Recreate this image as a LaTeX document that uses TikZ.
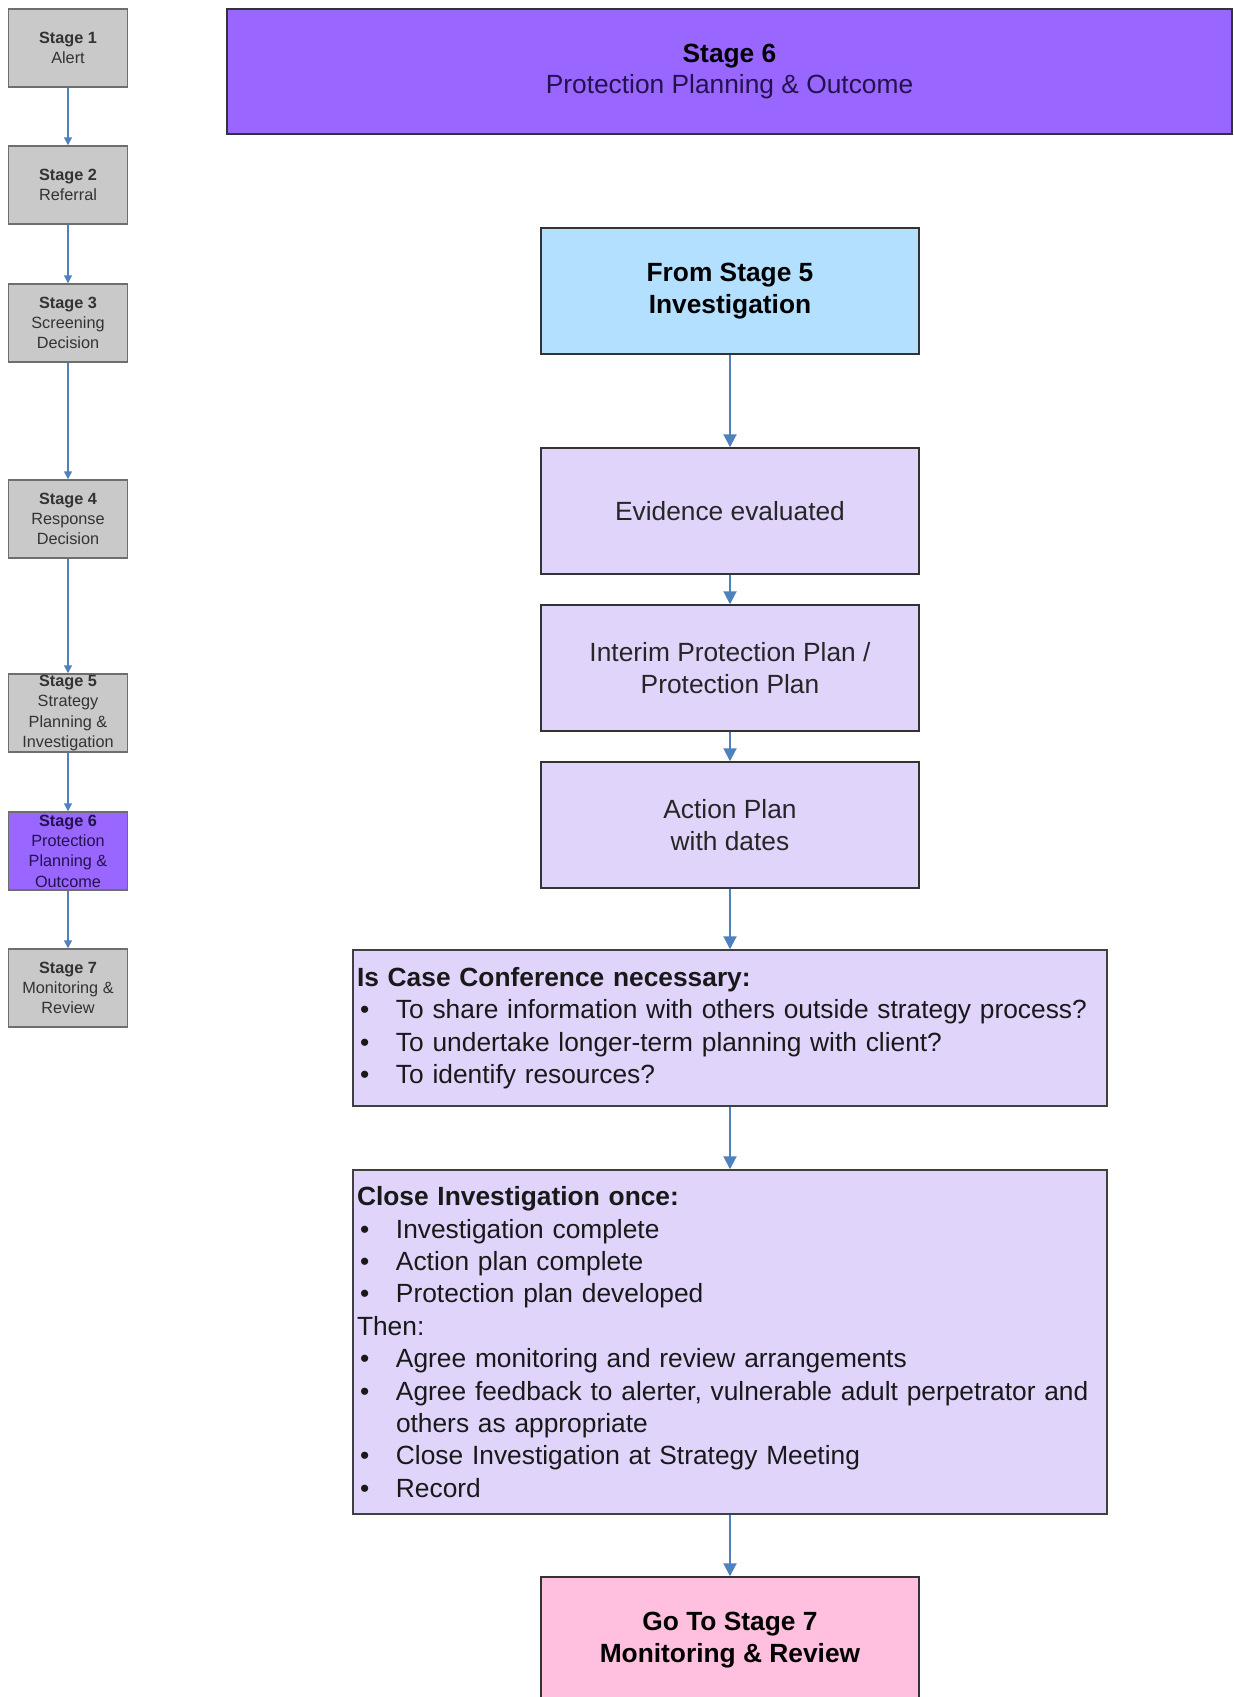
\documentclass[tikz,border=0pt]{standalone}
\usepackage{fontspec}
\setmainfont{Liberation Sans}
\usetikzlibrary{arrows.meta}

% one drawing unit
\newdimen\upx \upx=0.75pt

\definecolor{stagepurple}{HTML}{9966FF}
\definecolor{stagegray}{HTML}{C9C9C9}
\definecolor{graybord}{HTML}{6E6E6E}
\definecolor{fromblue}{HTML}{B3E0FF}
\definecolor{lavender}{HTML}{E0D4FB}
\definecolor{pinkbox}{HTML}{FFBFDF}
\definecolor{flowblue}{HTML}{4F81BD}
\definecolor{deeppurple}{HTML}{24124F}

% bullet with hanging indent
\newcommand\bitem{\makebox[39\upx][l]{\hspace{3\upx}\textbullet}}
\newcommand\hangind{\hspace*{39\upx}}

\tikzset{
  sidebox/.style={draw=graybord, line width=1.1pt, fill=stagegray,
    minimum width=89.25pt, minimum height=58.5pt, inner sep=0pt,
    align=center, text=black!80, font=\fontsize{12.2}{15.2}\selectfont},
  mainbox/.style={draw=black!80, line width=1.1pt,
    minimum width=283.5pt, minimum height=94.5pt, inner sep=0pt,
    align=center, text=black!85, font=\fontsize{19.75}{23.5}\selectfont},
  listbox/.style={draw=black!75, line width=1.1pt, fill=lavender,
    text width=559.5pt, inner xsep=3pt, inner ysep=0pt, align=left,
    text=black!90, font=\fontsize{19.75}{24.3}\selectfont},
  flow/.style={draw=flowblue, line width=1.5pt,
    -{Triangle[length=9.75pt,width=9.75pt]}},
  sideflow/.style={draw=flowblue, line width=1.1pt,
    -{Triangle[length=6pt,width=6pt]}},
}

\begin{document}
\begin{tikzpicture}[x=0.75pt, y=-0.75pt]
\fill[white] (0,0) rectangle (1234,1697);
\useasboundingbox (0,0) rectangle (1234,1697);

% ---- stage overview column ----
\node[sidebox] (s1) at (68,48)  {\textbf{Stage 1}\\Alert};
\node[sidebox] (s2) at (68,185) {\textbf{Stage 2}\\Referral};
\node[sidebox] (s3) at (68,323) {\textbf{Stage 3}\\Screening\\Decision};
\node[sidebox] (s4) at (68,519) {\textbf{Stage 4}\\Response\\Decision};
\node[sidebox] (s5) at (68,713) {\textbf{Stage 5}\\Strategy\\Planning \&\\Investigation};
\node[sidebox, fill=stagepurple, text=deeppurple] (s6) at (68,851)
  {\textbf{Stage 6}\\Protection\\Planning \&\\Outcome};
\node[sidebox] (s7) at (68,988) {\textbf{Stage 7}\\Monitoring \&\\Review};

\draw[sideflow] (s1.south) -- (s2.north);
\draw[sideflow] (s2.south) -- (s3.north);
\draw[sideflow] (s3.south) -- (s4.north);
\draw[sideflow] (s4.south) -- (s5.north);
\draw[sideflow] (s5.south) -- (s6.north);
\draw[sideflow] (s6.south) -- (s7.north);

% ---- stage 6 title ----
\node[mainbox, fill=stagepurple, minimum width=753.75pt, minimum height=93.75pt,
  text=deeppurple] (title) at (729.5,71.5)
  {\textcolor{black}{\textbf{Stage 6}}\\Protection Planning \& Outcome};

% ---- main flow ----
\node[mainbox, fill=fromblue, text=black] (from) at (730,291)
  {\textbf{From Stage 5}\\\textbf{Investigation}};
\node[mainbox, fill=lavender] (evid) at (730,511) {Evidence evaluated};
\node[mainbox, fill=lavender] (interim) at (730,668)
  {Interim Protection Plan /\\Protection Plan};
\node[mainbox, fill=lavender] (action) at (730,825) {Action Plan\\with dates};

\node[listbox, minimum height=117pt] (conf) at (730,1028)
  {\textbf{Is Case Conference necessary:}\\
   \bitem To share information with others outside strategy process?\\
   \bitem To undertake longer-term planning with client?\\
   \bitem To identify resources?};

\node[listbox, minimum height=258pt] (close) at (730,1342)
  {\textbf{Close Investigation once:}\\
   \bitem Investigation complete\\
   \bitem Action plan complete\\
   \bitem Protection plan developed\\
   Then:\\
   \bitem Agree monitoring and review arrangements\\
   \bitem Agree feedback to alerter, vulnerable adult perpetrator and\\
   \hangind others as appropriate\\
   \bitem Close Investigation at Strategy Meeting\\
   \bitem Record};

\node[mainbox, fill=pinkbox, text=black] (next) at (730,1640)
  {\textbf{Go To Stage 7}\\\textbf{Monitoring \& Review}};

\draw[flow] (from.south) -- (evid.north);
\draw[flow] (evid.south) -- (interim.north);
\draw[flow] (interim.south) -- (action.north);
\draw[flow] (action.south) -- (conf.north);
\draw[flow] (conf.south) -- (close.north);
\draw[flow] (close.south) -- (next.north);
\end{tikzpicture}
\end{document}
